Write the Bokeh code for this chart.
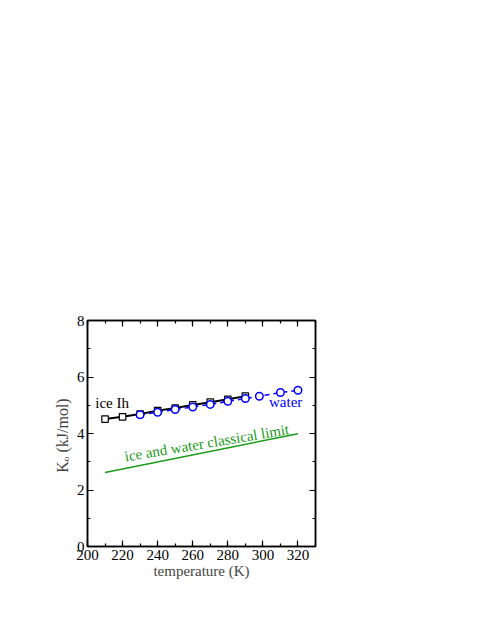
from bokeh.plotting import figure
from bokeh.models import LinearAxis, SingleIntervalTicker, Range1d, Label
from bokeh.embed import file_html
from bokeh.resources import INLINE
import math

# data
ice_T = [210, 220, 230, 240, 250, 260, 270, 280, 290]
ice_K = [4.51, 4.59, 4.69, 4.81, 4.90, 5.01, 5.11, 5.21, 5.32]
water_T = [230, 240, 250, 260, 270, 280, 290, 298, 310, 320]
water_K = [4.66, 4.75, 4.85, 4.94, 5.03, 5.14, 5.24, 5.32, 5.45, 5.53]
classical_T = [210, 320]
classical_K = [2.62, 3.99]

FONT = "Liberation Serif"
BLUE = "#0000ff"
GREEN = "#1a9a1a"

p = figure(frame_width=228, frame_height=226, output_backend="svg",
           toolbar_location=None, x_range=Range1d(200, 330), y_range=Range1d(0, 8),
           min_border_left=87, min_border_top=320, min_border_right=140,
           min_border_bottom=60, x_axis_location=None, y_axis_location=None)
p.grid.visible = False
p.outline_line_color = "black"
p.outline_line_width = 1.5
p.background_fill_color = "white"
p.border_fill_color = "white"

def style(ax, labels=True):
    ax.axis_line_color = "black"
    ax.axis_line_width = 1.5
    ax.major_tick_in = 6
    ax.major_tick_out = 0
    ax.minor_tick_in = 3
    ax.minor_tick_out = 0
    ax.major_tick_line_width = 1.2
    ax.minor_tick_line_width = 1.2
    ax.major_label_text_font = FONT
    ax.major_label_text_font_size = "15px"
    ax.major_label_text_color = "black"
    if not labels:
        ax.major_label_text_font_size = "0px"
        ax.major_label_text_color = None

xb = LinearAxis(ticker=SingleIntervalTicker(interval=20, num_minor_ticks=2))
style(xb)
xb.major_label_standoff = 3
xb.axis_label = "temperature (K)"
xb.axis_label_text_font = FONT
xb.axis_label_text_font_size = "15px"
xb.axis_label_text_font_style = "normal"
xb.axis_label_standoff = 0
p.add_layout(xb, "below")

xt = LinearAxis(ticker=SingleIntervalTicker(interval=20, num_minor_ticks=2))
style(xt, labels=False)
p.add_layout(xt, "above")

yl = LinearAxis(ticker=SingleIntervalTicker(interval=2, num_minor_ticks=2))
style(yl)
yl.major_label_standoff = 3
yl.axis_label = "K\u2092  (kJ/mol)"
yl.axis_label_text_font = FONT
yl.axis_label_text_font_size = "16px"
yl.axis_label_text_font_style = "normal"
yl.axis_label_standoff = 3
p.add_layout(yl, "left")

yr = LinearAxis(ticker=SingleIntervalTicker(interval=2, num_minor_ticks=2))
style(yr, labels=False)
p.add_layout(yr, "right")

# classical limit
p.line(classical_T, classical_K, line_color=GREEN, line_width=1.5)

# ice Ih
p.line(ice_T, ice_K, line_color="black", line_width=2)
p.scatter(ice_T, ice_K, marker="square", size=6.5, fill_color="white",
          line_color="black", line_width=1.2)

# water
p.line(water_T, water_K, line_color=BLUE, line_width=1.5, line_dash="5 4")
p.scatter(water_T, water_K, marker="circle", size=7.5, fill_color="white",
          line_color=BLUE, line_width=1.5)

# annotations
p.add_layout(Label(x=204.4, y=4.79, text="ice Ih", text_font=FONT,
                   text_font_size="15px", text_color="black"))
p.add_layout(Label(x=303.5, y=4.84, text="water", text_font=FONT,
                   text_font_size="15px", text_color=BLUE))
p.add_layout(Label(x=222.0, y=2.90, text="ice and water classical limit", text_font=FONT,
                   text_font_size="15px", text_color=GREEN, angle=math.radians(9.5)))

open("out.html", "w").write(file_html(p, INLINE))
